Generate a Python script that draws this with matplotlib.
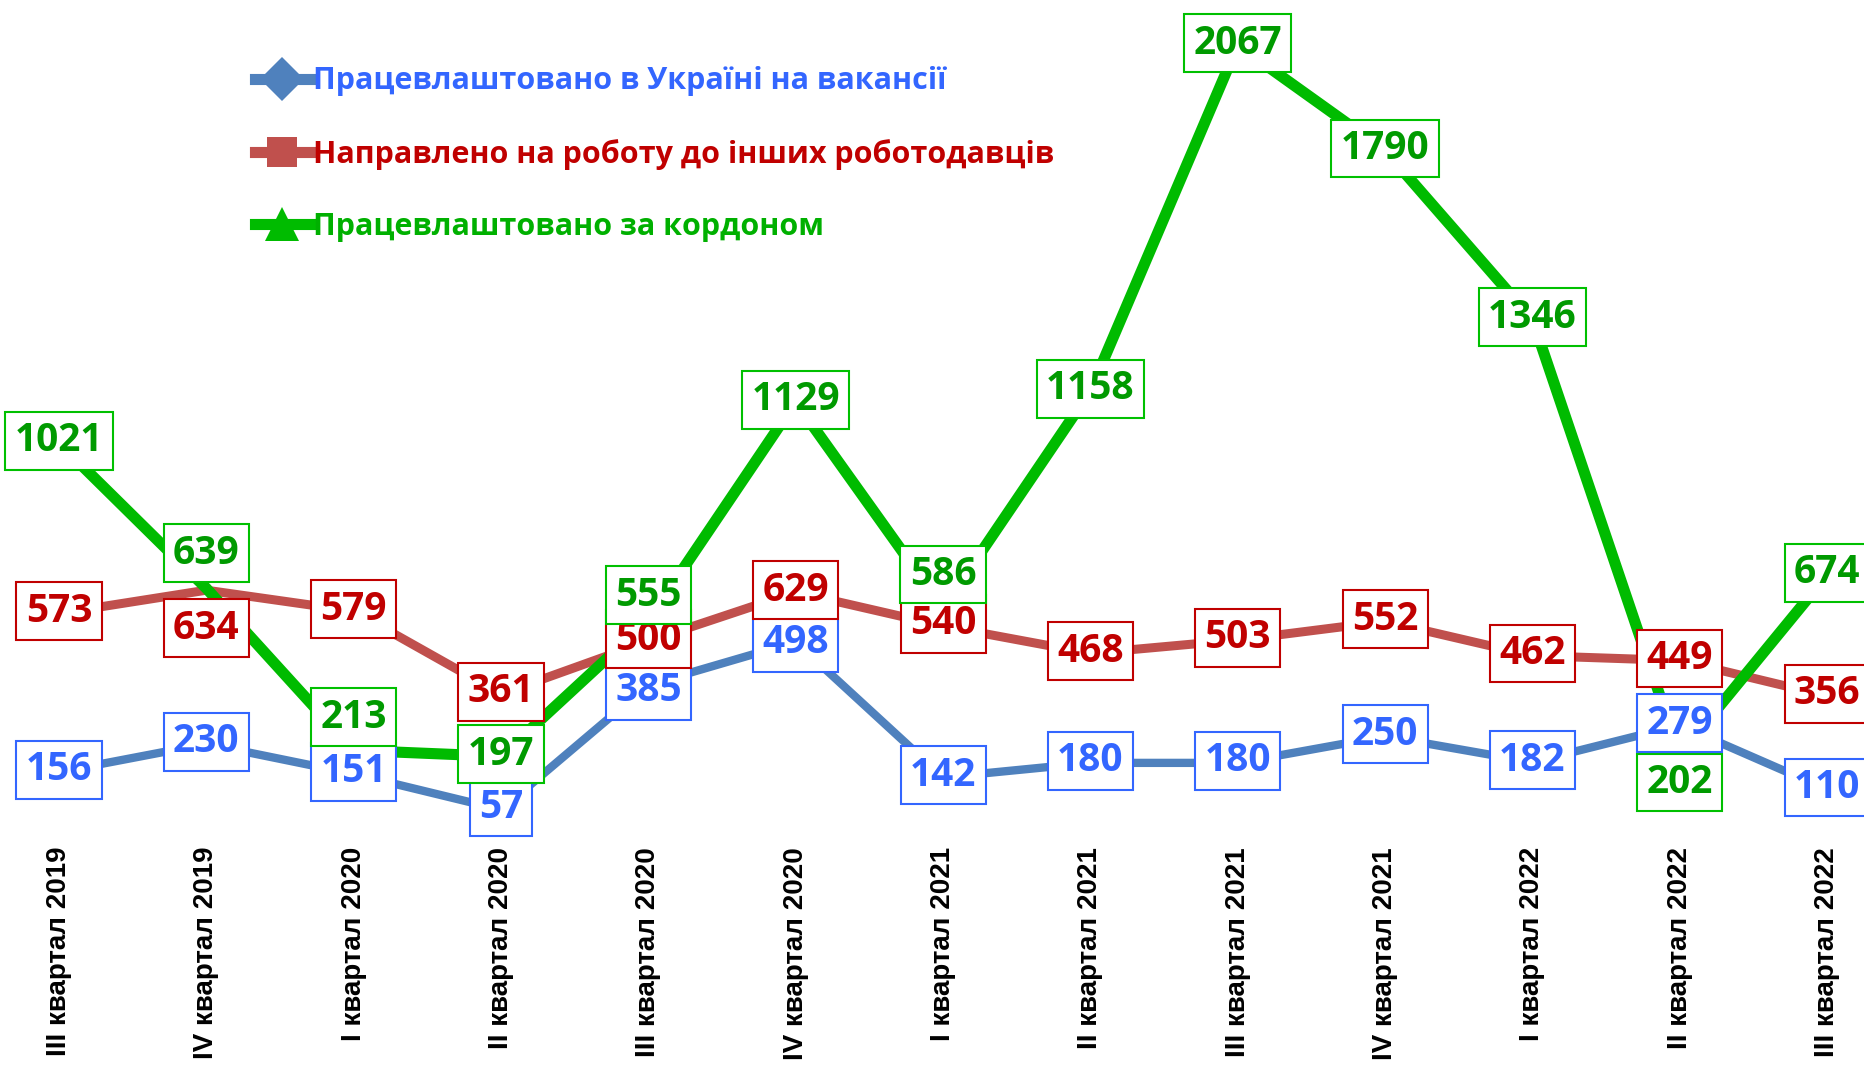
import numpy as np
import matplotlib
matplotlib.use("Agg")
import matplotlib.pyplot as plt
from matplotlib.lines import Line2D

# quarters on the x axis
quarters = ["III квартал 2019", "IV квартал 2019", "I квартал 2020", "II квартал 2020",
            "III квартал 2020", "IV квартал 2020", "I квартал 2021", "II квартал 2021",
            "III квартал 2021", "IV квартал 2021", "I квартал 2022", "II квартал 2022",
            "III квартал 2022"]

ukraine = [156, 230, 151, 57, 385, 498, 142, 180, 180, 250, 182, 279, 110]
other_emp = [573, 634, 579, 361, 500, 629, 540, 468, 503, 552, 462, 449, 356]
abroad = [1021, 639, 213, 197, 555, 1129, 586, 1158, 2067, 1790, 1346, 202, 674]

names = ["Працевлаштовано в Україні на вакансії",
         "Направлено на роботу до інших роботодавців",
         "Працевлаштовано за кордоном"]

# label shifts in pixels (positive = down), only where the label is moved off the point
blue_shift = [0, 0, 0, 0, 8, 3, 0, 0, 0, 0, 0, 0, 0]
red_shift = [0, 40, 0, 0, 0, 0, 0, 0, 0, 0, 0, 0, 0]
green_shift = [0, -33, -31, 0, -23, 0, -32, 0, 0, 0, 0, 30, 0]

line_cols = ["#4F81BD", "#C0504D", "#00BB00"]
text_cols = ["#3366FF", "#C00000", "#009A00"]
edge_cols = ["#3366FF", "#C00000", "#00C000"]

fig = plt.figure(figsize=(18.64, 10.67), dpi=100)
ax = fig.add_axes([0, 0.2128, 1, 1 - 0.2128])

x = np.arange(len(quarters))
series = [ukraine, other_emp, abroad]
shifts = [blue_shift, red_shift, green_shift]
widths = [6.0, 6.5, 8.0]
zl = [2, 3, 4]
zt = [5, 6, 7]

for vals, lc, lw, z in zip(series, line_cols, widths, zl):
    ax.plot(x, vals, color=lc, lw=lw, zorder=z, solid_capstyle='butt')

for k, (vals, sh, tc, ec, z) in enumerate(zip(series, shifts, text_cols, edge_cols, zt)):
    for i, v in enumerate(vals):
        zz = z
        if k == 2 and i == 11:   # the 202 box sits under the 279 box
            zz = 4.5
        ax.annotate(str(v), (x[i], v), xytext=(0, -sh[i] * 0.72 + 1.5), textcoords='offset points',
                    ha='center', va='center', fontsize=28, fontweight='bold',
                    family=['Open Sans', 'DejaVu Sans'], color=tc, zorder=zz,
                    annotation_clip=False,
                    bbox=dict(boxstyle='square,pad=0.24', fc='white', ec=ec, lw=1.5))

ax.set_xlim(-0.40, 12.25)
ax.set_ylim(-22.6, 2185.6)
ax.set_xticks(x)
ax.set_xticklabels(quarters, rotation=90, fontsize=20, fontweight='bold',
                   family=['Liberation Sans', 'DejaVu Sans'], va='top', ha='center')
ax.tick_params(axis='x', length=0, pad=5)
ax.set_yticks([])
for s in ax.spines.values():
    s.set_visible(False)

handles = [
    Line2D([], [], color=line_cols[0], lw=8, marker='D', markersize=22, markeredgewidth=0),
    Line2D([], [], color=line_cols[1], lw=8, marker='s', markersize=22, markeredgewidth=0),
    Line2D([], [], color=line_cols[2], lw=8, marker='^', markersize=24, markeredgewidth=0),
]
leg = ax.legend(handles, names, loc='upper left', bbox_to_anchor=(0.122, 0.9536),
                frameon=False, handlelength=1.8, handletextpad=0.1, labelspacing=1.38,
                prop={'family': ['Open Sans', 'DejaVu Sans'], 'weight': 'bold', 'size': 22})
for t, c in zip(leg.get_texts(), [text_cols[0], text_cols[1], "#00B000"]):
    t.set_color(c)

fig.savefig("out.png", dpi=100)
